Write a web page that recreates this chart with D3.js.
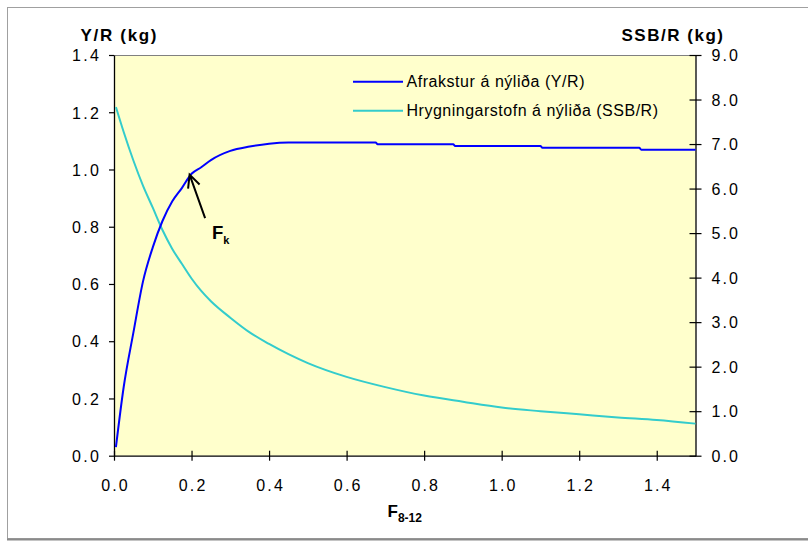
<!DOCTYPE html>
<html>
<head>
<meta charset="utf-8">
<script src="https://cdn.jsdelivr.net/npm/d3@7"></script>
<style>
  html, body { margin: 0; padding: 0; background: #fff; }
  svg { display: block; }
  text { font-family: Arial, "Liberation Sans", sans-serif; fill: #000; }
</style>
</head>
<body>
<svg id="chart" width="808" height="542"></svg>
<script>
// Fishing mortality F (ages 8-12)
const fishingMortality = [0.005, 0.025, 0.05, 0.075, 0.1, 0.125, 0.15, 0.175, 0.2, 0.225,
  0.25, 0.3, 0.35, 0.4, 0.45, 0.5, 0.55, 0.6, 0.65, 0.675, 0.68, 0.75, 0.8, 0.875, 0.88,
  0.95, 1.0, 1.05, 1.1, 1.105, 1.2, 1.3, 1.355, 1.36, 1.4, 1.5];

// Yield per recruit, kg (left axis)
const yieldPerRecruit = [0.03, 0.24, 0.43, 0.61, 0.728, 0.82, 0.888, 0.935, 0.985, 1.008,
  1.033, 1.065, 1.08, 1.09, 1.094, 1.094, 1.094, 1.094, 1.094, 1.094, 1.088, 1.088, 1.088, 1.088, 1.082,
  1.082, 1.082, 1.082, 1.082, 1.076, 1.076, 1.076, 1.076, 1.069, 1.069, 1.069];

// Spawning stock biomass per recruit, kg (right axis)
const ssbF = [0.005, 0.025, 0.05, 0.075, 0.1, 0.125, 0.15, 0.175, 0.2, 0.225, 0.25, 0.3,
  0.35, 0.4, 0.45, 0.5, 0.6, 0.7, 0.8, 0.9, 1.0, 1.1, 1.2, 1.3, 1.4, 1.5];
const ssbPerRecruit = [7.83, 7.27, 6.63, 6.06, 5.57, 5.07, 4.65, 4.31, 3.98, 3.70, 3.47, 3.10,
  2.77, 2.51, 2.28, 2.08, 1.77, 1.54, 1.35, 1.21, 1.08, 1.00, 0.93, 0.86, 0.80, 0.72];

const xTicks = [0, 0.2, 0.4, 0.6, 0.8, 1.0, 1.2, 1.4];
const yLeftTicks = [0, 0.2, 0.4, 0.6, 0.8, 1.0, 1.2, 1.4];
const yRightTicks = [0, 1, 2, 3, 4, 5, 6, 7, 8, 9];

const seriesNames = ["Afrakstur á nýliða (Y/R)", "Hrygningarstofn á nýliða (SSB/R)"];
const seriesColors = ["#0000FF", "#33CCCC"];

// Reference point F_k on the yield curve: arrow tip and tail in data units
const fkTip = { f: 0.195, y: 0.982 };
const fkTail = { f: 0.235, y: 0.83 };

const svg = d3.select("#chart");
const plot = { left: 114, right: 695.5, top: 55, bottom: 455.7 };

const x = d3.scaleLinear().domain([0, 1.5]).range([plot.left, plot.right]);
const yL = d3.scaleLinear().domain([0, 1.4]).range([plot.bottom, plot.top]);
const yR = d3.scaleLinear().domain([0, 9]).range([plot.bottom, plot.top]);

// Outer chart frame
svg.append("rect").attr("x", 7.5).attr("y", 7.5).attr("width", 830).attr("height", 531)
  .attr("fill", "none").attr("stroke", "#a0a0a0").attr("stroke-width", 1);
svg.append("line").attr("x1", 7).attr("x2", 808).attr("y1", 539.5).attr("y2", 539.5)
  .attr("stroke", "#8a8a8a").attr("stroke-width", 2);

// Plot area
svg.append("rect").attr("x", plot.left).attr("y", plot.top)
  .attr("width", plot.right - plot.left).attr("height", plot.bottom - plot.top)
  .attr("fill", "#FFFFCC");
svg.append("line").attr("x1", plot.left).attr("x2", plot.right)
  .attr("y1", plot.top + 0.5).attr("y2", plot.top + 0.5)
  .attr("stroke", "#808080").attr("stroke-width", 1);

const fmt = d3.format(".1f");

// Bottom axis
const gx = svg.append("g").attr("transform", `translate(0,${plot.bottom})`)
  .call(d3.axisBottom(x).tickValues(xTicks).tickFormat(fmt).tickSize(5).tickSizeOuter(0));
gx.selectAll(".tick line").attr("y1", -5).attr("y2", 5);
gx.selectAll(".tick text").attr("y", 35.5).attr("dy", 0)
  .attr("textLength", 26.5).attr("lengthAdjust", "spacing");

// Left axis
const gl = svg.append("g").attr("transform", `translate(${plot.left},0)`)
  .call(d3.axisLeft(yL).tickValues(yLeftTicks).tickFormat(fmt).tickSize(5).tickSizeOuter(0).tickPadding(10));
gl.selectAll(".tick text").attr("dy", "0.36em")
  .attr("textLength", 27).attr("lengthAdjust", "spacing");

// Right axis
const gr = svg.append("g").attr("transform", `translate(${plot.right},0)`)
  .call(d3.axisRight(yR).tickValues(yRightTicks).tickFormat(fmt).tickSize(6).tickSizeOuter(0).tickPadding(10));
gr.selectAll(".tick line").attr("x1", -6).attr("x2", 6);
gr.selectAll(".tick text").attr("x", 16).attr("dy", "0.36em")
  .attr("textLength", 26.5).attr("lengthAdjust", "spacing");

[gx, gl, gr].forEach(g => {
  g.selectAll(".domain").attr("stroke", "#000").attr("stroke-width", 1.3);
  g.selectAll(".tick line").attr("stroke", "#000").attr("stroke-width", 1.2);
  g.selectAll(".tick text").attr("font-size", 16).attr("font-family", "Arial, 'Liberation Sans', sans-serif").attr("fill", "#000");
});

// Curves
const yprLine = d3.line().curve(d3.curveMonotoneX)
  .x((d, i) => x(fishingMortality[i])).y(d => yL(d));
const ssbLine = d3.line().curve(d3.curveMonotoneX)
  .x((d, i) => x(ssbF[i])).y(d => yR(d));

svg.append("path").datum(ssbPerRecruit).attr("d", ssbLine)
  .attr("fill", "none").attr("stroke", seriesColors[1]).attr("stroke-width", 2)
  .attr("stroke-linejoin", "round");
svg.append("path").datum(yieldPerRecruit).attr("d", yprLine)
  .attr("fill", "none").attr("stroke", seriesColors[0]).attr("stroke-width", 2)
  .attr("stroke-linejoin", "round");

// Axis titles
svg.append("text").attr("x", 80.5).attr("y", 40.7).attr("font-size", 17).attr("font-weight", "bold")
  .attr("textLength", 76).attr("lengthAdjust", "spacing").text("Y/R (kg)");
svg.append("text").attr("x", 621.5).attr("y", 40.7).attr("font-size", 17).attr("font-weight", "bold")
  .attr("textLength", 101.5).attr("lengthAdjust", "spacing").text("SSB/R (kg)");

const xt = svg.append("text").attr("x", x(0.75)).attr("y", 516.7)
  .attr("text-anchor", "middle").attr("font-weight", "bold");
xt.append("tspan").attr("font-size", 17).text("F");
xt.append("tspan").attr("font-size", 12).attr("dy", 5.5).text("8-12");

// Legend
const legend = svg.append("g");
seriesNames.forEach((name, i) => {
  const ly = 81.7 + i * 29;
  legend.append("line").attr("x1", 353).attr("x2", 403).attr("y1", ly).attr("y2", ly)
    .attr("stroke", seriesColors[i]).attr("stroke-width", 2);
  legend.append("text").attr("x", 406.5).attr("y", ly + 5.5).attr("font-size", 16)
    .attr("textLength", i === 0 ? 178 : 251.5).attr("lengthAdjust", "spacing").text(name);
});

// F_k annotation arrow
const tip = [x(fkTip.f), yL(fkTip.y)];
const tail = [x(fkTail.f), yL(fkTail.y)];
const ang = Math.atan2(tip[1] - tail[1], tip[0] - tail[0]);
const headLen = 14, headAng = 0.45;
const h1 = [tip[0] - headLen * Math.cos(ang - headAng), tip[1] - headLen * Math.sin(ang - headAng)];
const h2 = [tip[0] - headLen * Math.cos(ang + headAng), tip[1] - headLen * Math.sin(ang + headAng)];
svg.append("path")
  .attr("d", `M${tail[0]},${tail[1]}L${tip[0]},${tip[1]}M${h1[0]},${h1[1]}L${tip[0]},${tip[1]}L${h2[0]},${h2[1]}`)
  .attr("fill", "none").attr("stroke", "#000").attr("stroke-width", 2);

const fk = svg.append("text").attr("x", 212).attr("y", 239.3).attr("font-weight", "bold");
fk.append("tspan").attr("font-size", 18.5).text("F");
fk.append("tspan").attr("font-size", 11).attr("dy", 5).text("k");
</script>
</body>
</html>
